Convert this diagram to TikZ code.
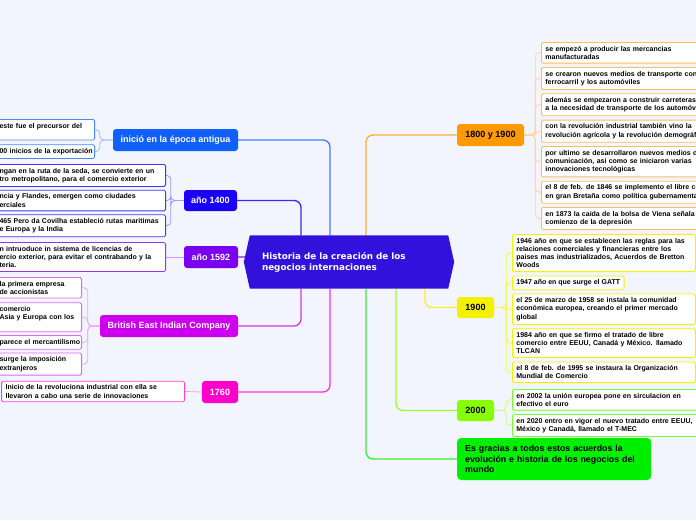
\documentclass[tikz,border=0pt]{standalone}
\usepackage{fontspec}
\setmainfont{Liberation Sans}
\newfontfamily\titlefont{DejaVu Sans}
\usetikzlibrary{positioning}
\pgfdeclarelayer{background}
\pgfsetlayers{background,main}

\definecolor{bgc}{HTML}{F3F5FE}
\definecolor{rootc}{HTML}{3311DD}
\definecolor{antc}{HTML}{1060FF}
\definecolor{c1400}{HTML}{1A00F5}
\definecolor{c1592}{HTML}{7A00F0}
\definecolor{britc}{HTML}{CC00EE}
\definecolor{c1760}{HTML}{FF00CC}
\definecolor{c1800}{HTML}{FF9900}
\definecolor{c1900}{HTML}{F2F200}
\definecolor{c2000}{HTML}{88FF00}
\definecolor{endc}{HTML}{00EE00}

\begin{document}
\begin{tikzpicture}[
    x=1pt, y=-1pt,
    root/.style={rectangle, text=white, align=left, text width=174pt, inner xsep=12pt, minimum height=53pt, font=\titlefont\bfseries\fontsize{8.8}{11}\selectfont},
    branch/.style={rectangle, rounded corners=3pt, minimum height=22pt, inner xsep=4pt, font=\bfseries\fontsize{9}{10.3}\selectfont},
    leaf/.style={rectangle, fill=white, rounded corners=1.5pt, line width=0.8pt, align=left, inner xsep=4pt, inner ysep=3.6pt, font=\bfseries\fontsize{7}{8.3}\selectfont},
    conn/.style={line width=1.3pt, rounded corners=7pt},
    twig/.style={line width=0.8pt, rounded corners=4pt}
]
\useasboundingbox (0,0) rectangle (696,520);

% Centre
\node[root] (root) at (349,262) {Historia de la creación de los\\negocios internaciones};

% Branches (left)
\node[branch, fill=antc, text=white, minimum width=125pt] (antigua) at (175.5,140) {inició en la época antigua};
\node[branch, fill=c1400, text=white, minimum width=53pt, minimum height=21pt] (y1400) at (210.5,200.5) {año 1400};
\node[branch, fill=c1592, text=white, minimum width=54pt] (y1592) at (211,257) {año 1592};
\node[branch, fill=britc, text=white, minimum width=138pt] (british) at (169,326) {British East Indian Company};
\node[branch, fill=c1760, text=white, minimum width=36pt] (y1760) at (220,392) {1760};

% Branches (right)
\node[branch, fill=c1800, minimum width=67pt] (y1800) at (490.5,135) {1800 y 1900};
\node[branch, fill=c1900, minimum width=37pt, minimum height=21pt] (y1900) at (475.5,307.5) {1900};
\node[branch, fill=c2000, minimum width=37pt, minimum height=21pt] (y2000) at (475.5,410.5) {2000};
\node[branch, fill=endc, anchor=west, align=left, text width=178pt, inner xsep=8pt, minimum height=42pt, rounded corners=4pt, font=\bfseries\fontsize{8.8}{10.3}\selectfont] (closing) at (457,459) {Es gracias a todos estos acuerdos la\\evolución e historia de los negocios del\\mundo};

% Leaves: época antigua
\node[leaf, draw=antc!75, anchor=north east, text width=91pt] (a1) at (95,119) {este fue el precursor del\\ \mbox{}};
\node[leaf, draw=antc!75, below=4pt of a1.south east, anchor=north east, text width=91pt] (a2) {\mbox{00 inicios de la exportación}};

% Leaves: 1400
\node[leaf, draw=c1400!80, anchor=north east, text width=162pt] (b1) at (166,164) {ngan en la ruta de la seda, se convierte  en un\\tro metropolitano, para el comercio exterior};
\node[leaf, draw=c1400!80, below=3pt of b1.south east, anchor=north east, text width=162pt] (b2) {ncia y Flandes, emergen como ciudades\\erciales};
\node[leaf, draw=c1400!80, below=3pt of b2.south east, anchor=north east, text width=162pt] (b3) {465 Pero da Covilha estableció rutas maritimas\\e Europa y la India};

% Leaf: 1592
\node[leaf, draw=c1592!80, anchor=east, text width=162pt] (c1) at (166,257) {n intruoduce in sistema de licencias de\\ercio exterior, para evitar el contrabando y la\\teria.};

% Leaves: British East Indian Company
\node[leaf, draw=britc!60, anchor=north east, text width=78pt] (d1) at (82,277) {la primera empresa\\de accionistas};
\node[leaf, draw=britc!60, below=4pt of d1.south east, anchor=north east, text width=78pt] (d2) {comercio\\Asia y Europa con los\\ \mbox{}};
\node[leaf, draw=britc!60, below=3pt of d2.south east, anchor=north east, text width=78pt] (d3) {\mbox{parece el mercantilismo}};
\node[leaf, draw=britc!60, below=3pt of d3.south east, anchor=north east, text width=78pt] (d4) {surge la imposición\\extranjeros};

% Leaf: 1760
\node[leaf, draw=c1760!75, anchor=east, text width=175pt] (e1) at (185,391.5) {Inicio de la revoluciona industrial con ella se\\llevaron a cabo una serie de innovaciones};

% Leaves: 1800 y 1900
\node[leaf, draw=c1800!65, anchor=north west, text width=220pt] (f1) at (541,42) {se empezó a producir las mercancias\\manufacturadas};
\node[leaf, draw=c1800!65, below=3.5pt of f1.south west, anchor=north west, text width=220pt] (f2) {se crearon nuevos medios de transporte con\\ferrocarril y los automóviles};
\node[leaf, draw=c1800!65, below=3.5pt of f2.south west, anchor=north west, text width=220pt] (f3) {además se empezaron a construir carreteras\\a la necesidad de transporte de los automóviles};
\node[leaf, draw=c1800!65, below=3.5pt of f3.south west, anchor=north west, text width=220pt] (f4) {con la revolución industrial también vino la\\revolución agrícola y la revolución demográfica};
\node[leaf, draw=c1800!65, below=3.5pt of f4.south west, anchor=north west, text width=220pt] (f5) {por ultimo se desarrollaron nuevos medios de\\comunicación, asi como se iniciaron varias\\innovaciones tecnológicas};
\node[leaf, draw=c1800!65, below=3.5pt of f5.south west, anchor=north west, text width=220pt] (f6) {el 8 de feb. de 1846 se implemento el libre comercio\\en gran Bretaña como política gubernamental};
\node[leaf, draw=c1800!65, below=3.5pt of f6.south west, anchor=north west, text width=220pt] (f7) {en 1873 la caida de la bolsa de Viena señala el\\comienzo de la depresión};

% Leaves: 1900
\node[leaf, draw=c1900, anchor=north west, text width=175pt] (g1) at (512,234) {1946 año en que se establecen las reglas para las\\relaciones comerciales y financieras entre los\\paises mas industrializados, Acuerdos de Bretton\\Woods};
\node[leaf, draw=c1900, below=3.5pt of g1.south west, anchor=north west] (g2) {1947 año en que surge el GATT};
\node[leaf, draw=c1900, below=3.5pt of g2.south west, anchor=north west, text width=175pt] (g3) {el 25 de marzo de 1958 se instala la comunidad\\económica europea, creando el primer mercado\\global};
\node[leaf, draw=c1900, below=3.5pt of g3.south west, anchor=north west, text width=175pt] (g4) {1984 año en que se firmo el tratado de libre\\comercio entre EEUU, Canadá y México. llamado\\TLCAN};
\node[leaf, draw=c1900, below=3.5pt of g4.south west, anchor=north west, text width=175pt] (g5) {el 8 de feb. de 1995 se instaura la Organización\\Mundial de Comercio};

% Leaves: 2000
\node[leaf, draw=c2000!60!green!80, anchor=north west, text width=180pt] (h1) at (512,389) {en 2002 la unión europea pone en sirculacion en\\efectivo el euro};
\node[leaf, draw=c2000!60!green!80, below=3.5pt of h1.south west, anchor=north west, text width=180pt] (h2) {en 2020 entro en vigor el nuevo tratado entre  EEUU,\\México y Canadá, llamado el T-MEC};

\begin{pgfonlayer}{background}
\fill[bgc] (0,0) rectangle (696,520);

% main connectors
\draw[conn, antc!80] (antigua.east) -| ([xshift=-19pt]root.north);
\draw[conn, c1400!85] (y1400.east) -| ([xshift=-48pt]root.north);
\draw[conn, c1592!60] (y1592.east) -- (y1592.east -| root.west);
\draw[conn, britc!80] (british.east) -| ([xshift=-48pt]root.south);
\draw[conn, c1760!80] (y1760.east) -| ([xshift=-19pt]root.south);
\draw[conn, c1800!80] (y1800.west) -| ([xshift=17pt]root.north);
\draw[conn, c1900!90] (y1900.west) -| ([xshift=76pt]root.south);
\draw[conn, c2000!85] (y2000.west) -| ([xshift=47pt]root.south);
\draw[conn, endc!80] (closing.west) -| ([xshift=17pt]root.south);

% leaf connectors
\foreach \l in {a1,a2}
  \draw[twig, antc!40] (antigua.west) -- ++(-13,0) |- (\l.east);
\foreach \l in {b1,b2,b3}
  \draw[twig, c1400!40] (y1400.west) -- ++(-13,0) |- (\l.east);
\draw[twig, c1592!40] (y1592.west) -- (c1.east);
\foreach \l in {d1,d2,d3,d4}
  \draw[twig, britc!35] (british.west) -- ++(-12,0) |- (\l.east);
\draw[twig, c1760!40] (y1760.west) -- (e1.east);
\foreach \l in {f1,f2,f3,f4,f5,f6,f7}
  \draw[twig, c1800!40] (y1800.east) -- ++(11,0) |- (\l.west);
\foreach \l in {g1,g2,g3,g4,g5}
  \draw[twig, c1900!70] (y1900.east) -- ++(12,0) |- (\l.west);
\foreach \l in {h1,h2}
  \draw[twig, c2000!50] (y2000.east) -- ++(12,0) |- (\l.west);

% hexagon behind the title
\fill[rootc] (root.north west) -- (root.north east) -- ([xshift=6pt]root.east) -- (root.south east) -- (root.south west) -- ([xshift=-6pt]root.west) -- cycle;
\end{pgfonlayer}
\end{tikzpicture}
\end{document}
